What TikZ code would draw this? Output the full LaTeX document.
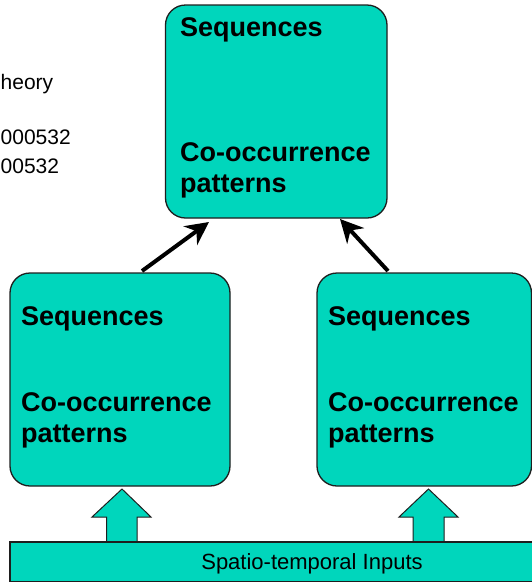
\documentclass[tikz,border=0pt]{standalone}
\usepackage{fontspec}
\setmainfont{Liberation Sans}
\usetikzlibrary{arrows.meta,calc}
\definecolor{tealfill}{RGB}{0,214,188}
\definecolor{edgecol}{RGB}{30,30,30}
\begin{document}
\begin{tikzpicture}[x=1pt,y=-1pt,
 box/.style={draw=edgecol,fill=tealfill,line width=1.3pt,rounded corners=20pt,inner sep=0pt,outer sep=0pt,anchor=north west},
 lbl/.style={anchor=base west,inner sep=0pt,font=\bfseries\fontsize{27}{31}\selectfont},
 side/.style={anchor=base west,inner sep=0pt,font=\fontsize{21}{25}\selectfont},
 link/.style={line width=4pt,-{Stealth[length=23pt,width=23pt]}},
 blockarrow/.style={draw=edgecol,fill=tealfill,line width=1pt,line join=miter}]
\useasboundingbox (0,0) rectangle (532,582);

% side text
\node[side] (s1) at (0.5,89) {heory};
\node[side] (s2) at (0.5,144) {000532};
\node[side] (s3) at (0.5,173) {00532};

% boxes
\node[box,minimum width=221.5pt,minimum height=213pt] (T) at (165.5,5) {};
\node[box,minimum width=220pt,minimum height=213pt] (L) at (10,273) {};
\node[box,minimum width=214.5pt,minimum height=213pt] (R) at (317,273) {};

% labels
\node[lbl] (t1) at (180,36) {Sequences};
\node[lbl] (t2) at (180,161) {Co-occurrence};
\node[lbl] (t3) at (180,192) {patterns};
\node[lbl] (l1) at (21,325) {Sequences};
\node[lbl] (l2) at (21,411) {Co-occurrence};
\node[lbl] (l3) at (21,442) {patterns};
\node[lbl] (r1) at (328,325) {Sequences};
\node[lbl] (r2) at (328,411) {Co-occurrence};
\node[lbl] (r3) at (328,442) {patterns};

% black arrows
\coordinate (a1) at ($(L.north west)+(132,-2)$);
\coordinate (a2) at ($(T.south west)+(43.5,4)$);
\coordinate (b1) at ($(R.north west)+(71,-2)$);
\coordinate (b2) at ($(T.south west)+(174.5,1)$);
\draw[link] (a1) -- (a2);
\draw[link] (b1) -- (b2);

% block arrows
\draw[blockarrow] (106.5,545) -- (106.5,517) -- (92,517) -- (122,489) -- (151,517) -- (137,517) -- (137,545) -- cycle;
\draw[blockarrow] (413,545) -- (413,517) -- (399,517) -- (428.5,489) -- (458,517) -- (444,517) -- (444,545) -- cycle;

% input bar
\node[box,rounded corners=0pt,minimum width=540pt,minimum height=39.5pt] (B) at (10,542) {};
\node[anchor=base,inner sep=0pt,font=\fontsize{22}{26}\selectfont] (bt) at (312,569) {Spatio-temporal Inputs};
\end{tikzpicture}
\end{document}
